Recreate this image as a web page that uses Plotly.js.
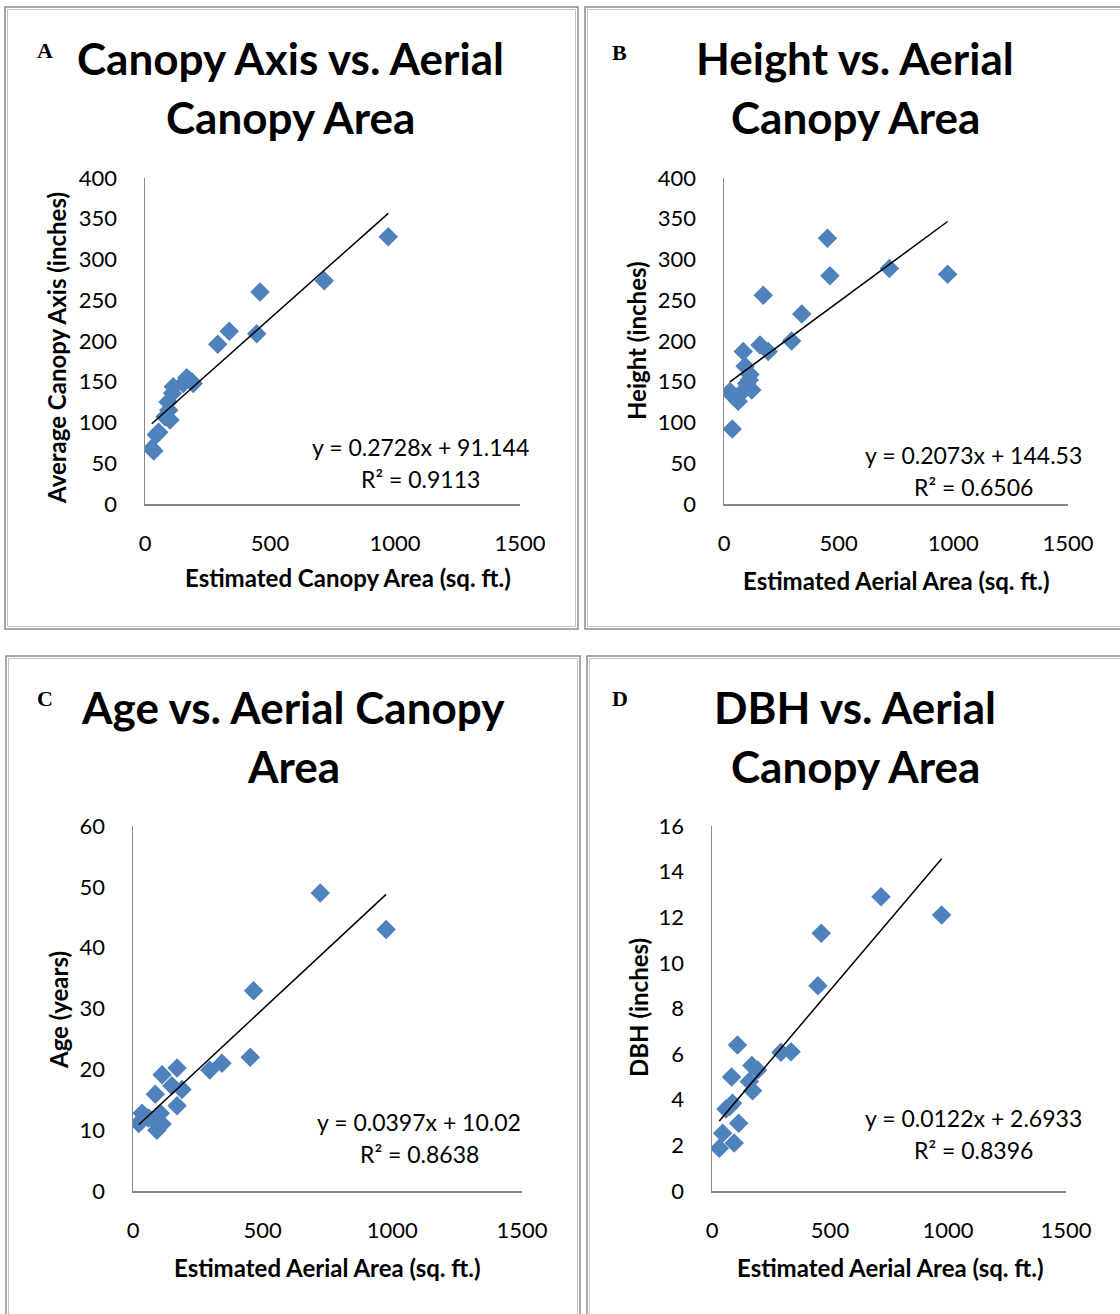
<!DOCTYPE html>
<html>
<head>
<meta charset="utf-8">
<script src="https://cdn.plot.ly/plotly-3.0.1.min.js"></script>
<style>html,body{margin:0;padding:0;background:#fff}#chart{width:1120px;height:1314px}</style>
</head>
<body>
<div id="chart"></div>
<script>
// ---------- DATA ----------
const panelTitles = [["Canopy Axis vs. Aerial", "Canopy Area"], ["Height vs. Aerial", "Canopy Area"], ["Age vs. Aerial Canopy", "Area"], ["DBH vs. Aerial", "Canopy Area"]];
const panelLetters = ["A", "B", "C", "D"];
const xTitles = ["Estimated Canopy Area (sq. ft.)", "Estimated Aerial Area (sq. ft.)", "Estimated Aerial Area (sq. ft.)", "Estimated Aerial Area (sq. ft.)"];
const yTitles = ["Average Canopy Axis (inches)", "Height (inches)", "Age (years)", "DBH (inches)"];
const xTicks = [0, 500, 1000, 1500];
const yRangesMax = [400, 400, 60, 16];
const yDticks = [50, 50, 10, 2];

const xA = [27, 35, 45, 55, 80, 92, 95, 100, 113, 110, 153, 167, 187, 193, 291, 337, 447, 460, 717, 973];
const yA = [68, 65, 85, 88, 107, 125, 115, 103, 144, 136, 148, 155, 150, 148, 196, 212, 209, 260, 274, 328];

const xB = [26, 36, 41, 62, 70, 84, 92, 99, 110, 113, 121, 157, 171, 193, 295, 339, 451, 462, 721, 975];
const yB = [138, 92, 132, 126, 135, 187, 169, 148, 152, 159, 140, 195, 256, 187, 200, 233, 326, 280, 289, 282];

const xC = [22, 28, 35, 60, 86, 86, 92, 105, 112, 112, 150, 170, 170, 189, 296, 343, 452, 465, 722, 976];
const yC = [11.1, 11.4, 12.8, 12.0, 15.9, 11.4, 10.0, 12.8, 11.0, 19.1, 17.3, 20.2, 14.0, 16.7, 19.9, 21.0, 22.0, 32.9, 49.0, 43.0];

const xD = [31, 45, 59, 75, 83, 87, 94, 108, 113, 158, 169, 172, 193, 292, 335, 449, 463, 716, 973];
const yD = [1.87, 2.53, 3.6, 3.7, 5.0, 3.85, 2.1, 6.4, 2.97, 4.8, 5.5, 4.4, 5.3, 6.08, 6.1, 9.0, 11.3, 12.9, 12.1];

const slopes = [0.2728, 0.2073, 0.0397, 0.0122];
const intercepts = [91.144, 144.53, 10.02, 2.6933];
const eqTexts = ["y = 0.2728x + 91.144", "y = 0.2073x + 144.53", "y = 0.0397x + 10.02", "y = 0.0122x + 2.6933"];
const r2Texts = ["R² = 0.9113", "R² = 0.6506", "R² = 0.8638", "R² = 0.8396"];

// ---------- LAYOUT GEOMETRY (pixels) ----------
const W = 1120, H = 1314;
const px = v => v / W;
const py = v => 1 - v / H;
const plotBoxes = [ // left, right, top, bottom
  [145, 520, 178, 504],
  [724, 1068, 178, 504],
  [133, 522, 826, 1191],
  [712, 1066, 826, 1191]
];
const frames = [[5, 578, 7, 629], [585, 1124, 7, 629], [6, 580, 656, 1318], [587, 1124, 656, 1318]];
const titlePos = [[290, 58, 290, 117], [855, 58, 855, 117], [293, 707, 293, 766], [855, 707, 855, 766]];
const letterPos = [[45, 50], [619, 52], [45, 698], [620, 698]];
const eqPos = [[420, 447, 420, 479], [973, 455, 973, 487], [419, 1122, 419, 1154], [973, 1118, 973, 1150]];
const xTitlePos = [[348, 577], [896, 580], [327, 1267], [890, 1267]];
const yTitlePos = [[56, 348], [636, 341], [58, 1010], [638, 1008]];

const FONT = "Lato, 'Open Sans', sans-serif";
const TITLE_SIZE = 44, AXT_SIZE = 24, EQ_SIZE = 23, TICK_SIZE = 22;
const xs = [xA, xB, xC, xD], ys = [yA, yB, yC, yD];
const traces = [], annotations = [], shapes = [];
const layout = {
  width: W, height: H, margin: {l: 0, r: 0, t: 0, b: 0},
  paper_bgcolor: "#fff", plot_bgcolor: "#fff", showlegend: false,
  font: {family: FONT, color: "#000"}
};

for (let i = 0; i < 4; i++) {
  const sfx = i === 0 ? "" : String(i + 1);
  const [l, r, t, b] = plotBoxes[i];
  layout["xaxis" + sfx] = {
    domain: [px(l), px(r)], range: [0, 1500], anchor: "y" + sfx,
    showline: true, linecolor: "#868686", linewidth: 1.5, showgrid: false, zeroline: false,
    ticks: "", tickvals: xTicks, tickfont: {family: FONT, size: TICK_SIZE, color: "#000"},
    ticklabelstandoff: 19, fixedrange: true
  };
  layout["yaxis" + sfx] = {
    domain: [py(b), py(t)], range: [0, yRangesMax[i]], anchor: "x" + sfx,
    showline: true, linecolor: "#868686", linewidth: 1.5, showgrid: false, zeroline: false,
    ticks: "", dtick: yDticks[i], tick0: 0, tickfont: {family: FONT, size: TICK_SIZE, color: "#000"},
    ticklabelstandoff: 22, fixedrange: true
  };
  traces.push({
    type: "scatter", mode: "markers", x: xs[i], y: ys[i],
    xaxis: "x" + sfx, yaxis: "y" + sfx,
    marker: {symbol: "diamond", size: 15, color: "#4F81BD", line: {width: 0}},
    hoverinfo: "x+y"
  });
  const xmin = Math.min(...xs[i]), xmax = Math.max(...xs[i]);
  traces.push({
    type: "scatter", mode: "lines", x: [xmin, xmax],
    y: [slopes[i] * xmin + intercepts[i], slopes[i] * xmax + intercepts[i]],
    xaxis: "x" + sfx, yaxis: "y" + sfx,
    line: {color: "#000", width: 1.5}, hoverinfo: "skip"
  });
  // frames (double gray line)
  const [fl, fr, ft, fb] = frames[i];
  shapes.push({type: "rect", xref: "paper", yref: "paper", x0: px(fl), x1: px(fr), y0: py(fb), y1: py(ft),
    line: {color: "#8c8c8c", width: 1.5}, fillcolor: "rgba(0,0,0,0)", layer: "below"});
  shapes.push({type: "rect", xref: "paper", yref: "paper", x0: px(fl + 2.5), x1: px(fr - 2.5), y0: py(fb - 2.5), y1: py(ft + 2.5),
    line: {color: "#c4c4c4", width: 1}, fillcolor: "rgba(0,0,0,0)", layer: "below"});
  // titles
  const tp = titlePos[i];
  annotations.push({text: "<b>" + panelTitles[i][0] + "</b>", x: px(tp[0]), y: py(tp[1]), xref: "paper", yref: "paper",
    xanchor: "center", yanchor: "middle", showarrow: false, font: {family: FONT, size: TITLE_SIZE, color: "#000"}});
  annotations.push({text: "<b>" + panelTitles[i][1] + "</b>", x: px(tp[2]), y: py(tp[3]), xref: "paper", yref: "paper",
    xanchor: "center", yanchor: "middle", showarrow: false, font: {family: FONT, size: TITLE_SIZE, color: "#000"}});
  annotations.push({text: "<b>" + panelLetters[i] + "</b>", x: px(letterPos[i][0]), y: py(letterPos[i][1]), xref: "paper", yref: "paper",
    xanchor: "center", yanchor: "middle", showarrow: false, font: {family: "'Liberation Serif', 'DejaVu Serif', serif", size: 22, color: "#000"}});
  // equations
  const ep = eqPos[i];
  annotations.push({text: eqTexts[i], x: px(ep[0]), y: py(ep[1]), xref: "paper", yref: "paper",
    xanchor: "center", yanchor: "middle", showarrow: false, font: {family: FONT, size: EQ_SIZE, color: "#000"}});
  annotations.push({text: r2Texts[i], x: px(ep[2]), y: py(ep[3]), xref: "paper", yref: "paper",
    xanchor: "center", yanchor: "middle", showarrow: false, font: {family: FONT, size: EQ_SIZE, color: "#000"}});
  // axis titles
  annotations.push({text: "<b>" + xTitles[i] + "</b>", x: px(xTitlePos[i][0]), y: py(xTitlePos[i][1]), xref: "paper", yref: "paper",
    xanchor: "center", yanchor: "middle", showarrow: false, font: {family: FONT, size: AXT_SIZE, color: "#000"}});
  annotations.push({text: "<b>" + yTitles[i] + "</b>", x: px(yTitlePos[i][0]), y: py(yTitlePos[i][1]), xref: "paper", yref: "paper",
    xanchor: "center", yanchor: "middle", textangle: -90, showarrow: false, font: {family: FONT, size: AXT_SIZE, color: "#000"}});
}
layout.annotations = annotations;
layout.shapes = shapes;

Plotly.newPlot("chart", traces, layout, {displayModeBar: false, staticPlot: true});
</script>
</body>
</html>
